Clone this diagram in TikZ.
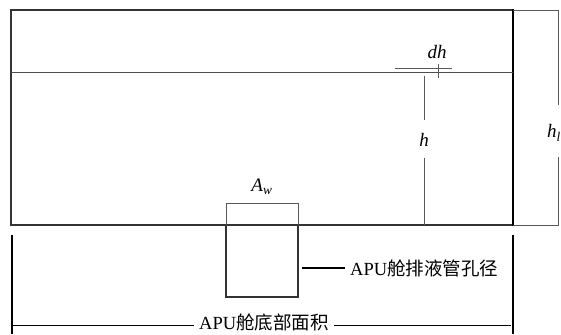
\documentclass[tikz,border=0pt]{standalone}
\usepackage{fontspec}
\setmainfont{Liberation Serif}
\newfontfamily\cjk{Noto Sans CJK SC}

\tikzset{
  wall/.style={line width=1.2pt, black!80},
  thinline/.style={line width=0.6pt, black!70},
  dimline/.style={line width=0.7pt, black!65},
  lbl/.style={inner sep=3pt, font=\fontsize{19}{22}\selectfont},
  cjklbl/.style={inner sep=5pt, font=\fontsize{18.5}{22}\selectfont\cjk}
}

\begin{document}
\begin{tikzpicture}[x=1pt, y=-1pt]
    \useasboundingbox (0,0) rectangle (561,334);

    % tank
    \draw[wall] (513,10) -- (11,10) -- (11,225) -- (513,225);
    \draw[line width=1.8pt] (513,9) -- (513,226);
    \draw[thinline] (11,72) -- (513,72);

    % h_l
    \coordinate (hltop) at (558,10);
    \coordinate (hlbot) at (558,225);
    \node[lbl, anchor=west] (hl) at (544,133) {\textit{h}\textsubscript{\textit{l}}};
    \draw[dimline] (513,10) -- (hltop) -- (558,105);
    \draw[dimline] (558,157) -- (hlbot) -- (513,225);

    % dh
    \node[lbl] (dh) at (437,52) {\textit{dh}};
    \draw[dimline] (395,68) -- (452,68);
    \draw[dimline] (438,64) -- (438,78);

    % h
    \node[lbl] (h) at (424,140) {\textit{h}};
    \draw[dimline] (424,76) -- (424,120);
    \draw[dimline] (424,158) -- (424,225);

    % A_w
    \node[lbl] (aw) at (262,187) {\textit{A}\textsubscript{\textit{w}}};
    \draw[dimline] (226,225) -- (226,203) -- (298,203) -- (298,225);

    % drain pipe
    \draw[wall] (226,225) -- (226,297) -- (298,297) -- (298,225);
    \node[cjklbl, anchor=west] (pipe) at (345,268) {{\rmfamily APU}舱排液管孔径};
    \draw[line width=1.6pt] (302,268) -- (pipe.west);

    % bottom area
    \draw[line width=1.6pt] (12,235) -- (12,334);
    \draw[line width=1.6pt] (513,235) -- (513,334);
    \node[cjklbl] (area) at (264,322) {{\rmfamily APU}舱底部面积};
    \draw[line width=1.0pt] (13,325) -- (area.west |- 0,325);
    \draw[line width=1.0pt] (area.east |- 0,325) -- (511,325);
\end{tikzpicture}
\end{document}
